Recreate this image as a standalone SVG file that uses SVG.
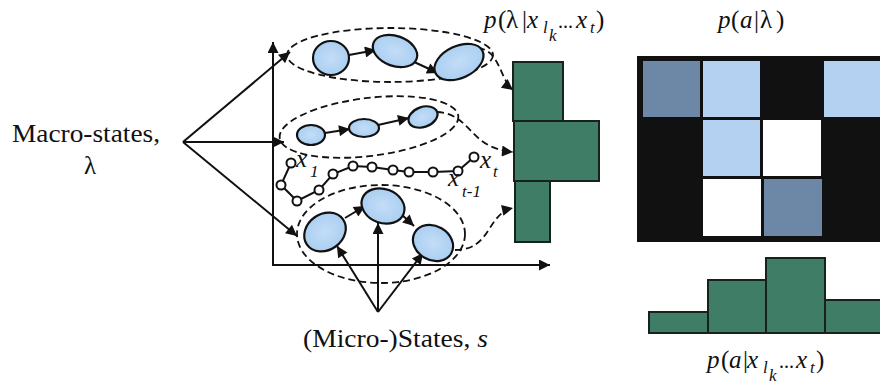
<svg xmlns="http://www.w3.org/2000/svg" width="880" height="390" viewBox="0 0 880 390">
<style>
.t{font-family:"Liberation Serif","Times New Roman",serif;fill:#111;font-size:25px}
.i{font-style:italic}
.sub{font-family:"Liberation Serif","Times New Roman",serif;fill:#111;font-size:17px;font-style:italic}
.dots{font-size:20px}
.ax{stroke:#111;stroke-width:2;fill:none}
.dash{stroke:#111;stroke-width:1.8;fill:none;stroke-dasharray:7 4}
.st{fill:url(#bl);stroke:#111;stroke-width:2.2}
.ch{fill:#fff;stroke:#111;stroke-width:2}
.hist{fill:#3f7d66;stroke:#16221c;stroke-width:2}
.dk{fill:#6c88a6;stroke:#111;stroke-width:2}
.lb{fill:#b4d1f1;stroke:#111;stroke-width:2}
.wh{fill:#fff;stroke:#111;stroke-width:2}
</style>
<defs>
<marker id="ah" viewBox="0 0 10 10" refX="10" refY="5" markerWidth="15" markerHeight="11" markerUnits="userSpaceOnUse" orient="auto"><path d="M0,0 L10,5 L0,10 z" fill="#111"/></marker>
<radialGradient id="bl" cx="0.5" cy="0.5" r="0.6"><stop offset="0" stop-color="#c3ddf7"/><stop offset="1" stop-color="#a6ccf0"/></radialGradient>
</defs>

<g id="labels">
<text class="t" x="12" y="142" textLength="148" lengthAdjust="spacingAndGlyphs">Macro-states,</text>
<text class="t" x="90" y="174" text-anchor="middle">λ</text>
<text class="t" x="303" y="347" textLength="185" lengthAdjust="spacingAndGlyphs">(Micro-)States, <tspan class="i">s</tspan></text>
<text class="t" y="28"><tspan class="i" x="484">p</tspan><tspan x="498">(</tspan><tspan x="506">λ</tspan><tspan x="522">|</tspan><tspan class="i" x="527">x</tspan><tspan class="sub" x="543" y="33">l</tspan><tspan class="sub" x="549" y="41">k</tspan><tspan class="dots" x="558" y="28">...</tspan><tspan class="i" x="576" y="28">x</tspan><tspan class="sub" x="590" y="33">t</tspan><tspan x="596" y="28">)</tspan></text>
<text class="t" y="28"><tspan class="i" x="718">p</tspan><tspan x="731">(</tspan><tspan class="i" x="740">a</tspan><tspan x="754">|</tspan><tspan x="760">λ</tspan><tspan x="776">)</tspan></text>
<text class="t" y="368"><tspan class="i" x="707">p</tspan><tspan x="721">(</tspan><tspan class="i" x="729">a</tspan><tspan x="743">|</tspan><tspan class="i" x="747">x</tspan><tspan class="sub" x="763" y="373">l</tspan><tspan class="sub" x="769" y="381">k</tspan><tspan class="dots" x="779" y="368">...</tspan><tspan class="i" x="796" y="368">x</tspan><tspan class="sub" x="810" y="373">t</tspan><tspan x="816" y="368">)</tspan></text>
</g>

<g id="connectors">
<line class="ax" x1="273" y1="266" x2="273" y2="42" marker-end="url(#ah)"/>
<line class="ax" x1="272" y1="265" x2="550" y2="265" marker-end="url(#ah)"/>
<line class="ax" x1="183" y1="142" x2="290" y2="52" marker-end="url(#ah)"/>
<line class="ax" x1="183" y1="142" x2="284" y2="142" marker-end="url(#ah)"/>
<line class="ax" x1="183" y1="142" x2="297" y2="236" marker-end="url(#ah)"/>
<line class="ax" x1="378" y1="312" x2="337" y2="246" marker-end="url(#ah)"/>
<line class="ax" x1="378" y1="312" x2="378" y2="223" marker-end="url(#ah)"/>
<line class="ax" x1="378" y1="312" x2="423" y2="253" marker-end="url(#ah)"/>
<line class="ax" x1="349" y1="55" x2="376" y2="50" marker-end="url(#ah)"/>
<line class="ax" x1="412" y1="61" x2="438" y2="73" marker-end="url(#ah)"/>
<line class="ax" x1="325" y1="133" x2="350" y2="129" marker-end="url(#ah)"/>
<line class="ax" x1="378" y1="125" x2="409" y2="118" marker-end="url(#ah)"/>
<line class="ax" x1="345" y1="218" x2="365" y2="206" marker-end="url(#ah)"/>
<line class="ax" x1="400" y1="213" x2="414" y2="226" marker-end="url(#ah)"/>
<path class="dash" d="M478,48 C500,50 500,80 513,90" marker-end="url(#ah)"/>
<path class="dash" d="M437,112 C472,114 468,148 513,152" marker-end="url(#ah)"/>
<path class="dash" d="M455,250 C492,250 486,214 513,208" marker-end="url(#ah)"/>
</g>

<g id="macro-top">
<ellipse class="dash" cx="390" cy="55" rx="103" ry="27"/>
<ellipse class="st" cx="331" cy="58" rx="18" ry="17"/>
<ellipse class="st" cx="395" cy="51" rx="23" ry="15" transform="rotate(20 395 51)"/>
<ellipse class="st" cx="459" cy="62" rx="26" ry="16" transform="rotate(-25 459 62)"/>
</g>

<g id="macro-mid">
<ellipse class="dash" cx="369" cy="127" rx="90" ry="29" transform="rotate(-7 369 127)"/>
<ellipse class="st" cx="311" cy="135" rx="14" ry="10"/>
<ellipse class="st" cx="364" cy="128" rx="15" ry="9"/>
<ellipse class="st" cx="423" cy="117" rx="15" ry="10" transform="rotate(-20 423 117)"/>
</g>

<g id="macro-bottom">
<ellipse class="dash" cx="381" cy="234" rx="84" ry="49"/>
<ellipse class="st" cx="325" cy="232" rx="22" ry="18" transform="rotate(-35 325 232)"/>
<ellipse class="st" cx="383" cy="206" rx="22" ry="17" transform="rotate(20 383 206)"/>
<ellipse class="st" cx="433" cy="243" rx="21" ry="17" transform="rotate(30 433 243)"/>
</g>

<g id="trajectory">
<polyline class="ax" points="291,163 281,185 297,201 319,190 333,174 353,166 372,167 393,170 409,172 433,172 458,171 474,157"/>
<circle class="ch" cx="291" cy="163" r="4.5"/>
<circle class="ch" cx="281" cy="185" r="4.5"/>
<circle class="ch" cx="297" cy="201" r="4.5"/>
<circle class="ch" cx="319" cy="190" r="4.5"/>
<circle class="ch" cx="333" cy="174" r="4.5"/>
<circle class="ch" cx="353" cy="166" r="4.5"/>
<circle class="ch" cx="372" cy="167" r="4.5"/>
<circle class="ch" cx="393" cy="170" r="4.5"/>
<circle class="ch" cx="409" cy="172" r="4.5"/>
<circle class="ch" cx="433" cy="172" r="4.5"/>
<circle class="ch" cx="458" cy="171" r="4.5"/>
<circle class="ch" cx="474" cy="157" r="4.5"/>
<text class="t i" x="296" y="167">x</text><text class="sub" x="310" y="177">1</text>
<text class="t i" x="480" y="168">x</text><text class="sub" x="493" y="177">t</text>
<text class="t i" x="448" y="186">x</text><text class="sub" x="462" y="197">t-1</text>
</g>

<g id="hist-lambda">
<rect class="hist" x="513" y="62" width="50" height="59"/>
<rect class="hist" x="514" y="121" width="85" height="60"/>
<rect class="hist" x="515" y="181" width="35" height="61"/>
</g>

<g id="matrix">
<rect x="637" y="56" width="250" height="186" fill="#111"/>
<rect class="dk" x="642" y="60" width="59" height="58"/>
<rect class="lb" x="702" y="60" width="59" height="58"/>
<rect class="lb" x="823" y="60" width="62" height="58"/>
<rect class="lb" x="702" y="119" width="59" height="58"/>
<rect class="wh" x="762" y="119" width="60" height="58"/>
<rect class="wh" x="702" y="178" width="60" height="59"/>
<rect class="dk" x="763" y="178" width="60" height="59"/>
</g>

<g id="hist-a">
<rect class="hist" x="649" y="312" width="59" height="21"/>
<rect class="hist" x="708" y="280" width="58" height="53"/>
<rect class="hist" x="766" y="258" width="59" height="75"/>
<rect class="hist" x="825" y="300" width="60" height="33"/>
</g>
</svg>
